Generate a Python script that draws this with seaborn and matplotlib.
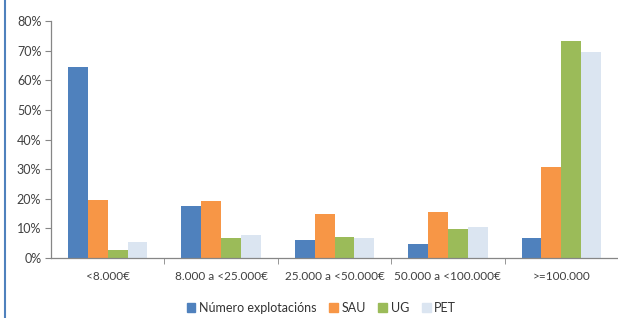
import pandas as pd
import seaborn as sns
import matplotlib.pyplot as plt
from matplotlib.lines import Line2D
from matplotlib.ticker import PercentFormatter

# Categories and series (share in %)
categories = ["<8.000€", "8.000 a <25.000€", "25.000 a <50.000€", "50.000 a <100.000€", ">=100.000"]
explotacions = [64.4, 17.6, 6.1, 4.6, 6.9]
sau = [19.6, 19.1, 14.8, 15.6, 30.8]
ug = [2.7, 6.6, 7.2, 9.8, 73.4]
pet = [5.3, 7.9, 6.9, 10.5, 69.5]

series = ["Número explotacións", "SAU", "UG", "PET"]
colors = ["#4F81BD", "#F79646", "#9BBB59", "#DBE5F1"]

df = pd.DataFrame({
    "cat": categories * 4,
    "serie": [s for s in series for _ in categories],
    "valor": explotacions + sau + ug + pet,
})

sns.set_style("white")
plt.rcParams["font.family"] = ["Lato", "DejaVu Sans"]

fig = plt.figure(figsize=(6.18, 3.18), dpi=100)
ax = fig.add_axes([51 / 618, 60 / 318, 567 / 618, 237 / 318])

sns.barplot(data=df, x="cat", y="valor", hue="serie", palette=colors,
            width=0.7, saturation=1, linewidth=0, edgecolor="none",
            ax=ax, legend=False)

ax.set_ylim(0, 80)
ax.set_xlim(-0.5, 4.5)
ax.set_yticks(range(0, 81, 10))
ax.yaxis.set_major_formatter(PercentFormatter(decimals=0))
ax.set_xlabel("")
ax.set_ylabel("")

for s in ["top", "right"]:
    ax.spines[s].set_visible(False)
for s in ["left", "bottom"]:
    ax.spines[s].set_color("#868686")
    ax.spines[s].set_linewidth(0.9)

ax.tick_params(axis="y", length=4, color="#868686", labelsize=9, labelcolor="#404040", pad=3, left=True)
ax.tick_params(axis="x", which="major", length=0, labelsize=8.5, labelcolor="#404040", pad=9)
ax.set_xticks([0.5, 1.5, 2.5, 3.5], minor=True)
ax.tick_params(axis="x", which="minor", length=4, color="#868686", bottom=True)

handles = [plt.Rectangle((0, 0), 1, 1, color=c) for c in colors]
fig.legend(handles, series, loc="center", bbox_to_anchor=(0.52, 10 / 318), ncol=4,
           frameon=False, fontsize=9, handlelength=0.7, handleheight=0.7,
           handletextpad=0.3, columnspacing=1.0, labelcolor="#333333")

fig.add_artist(Line2D([5 / 618, 5 / 618], [0, 1], color="#4F81BD", linewidth=1.5))

fig.savefig("out.png", dpi=100)
